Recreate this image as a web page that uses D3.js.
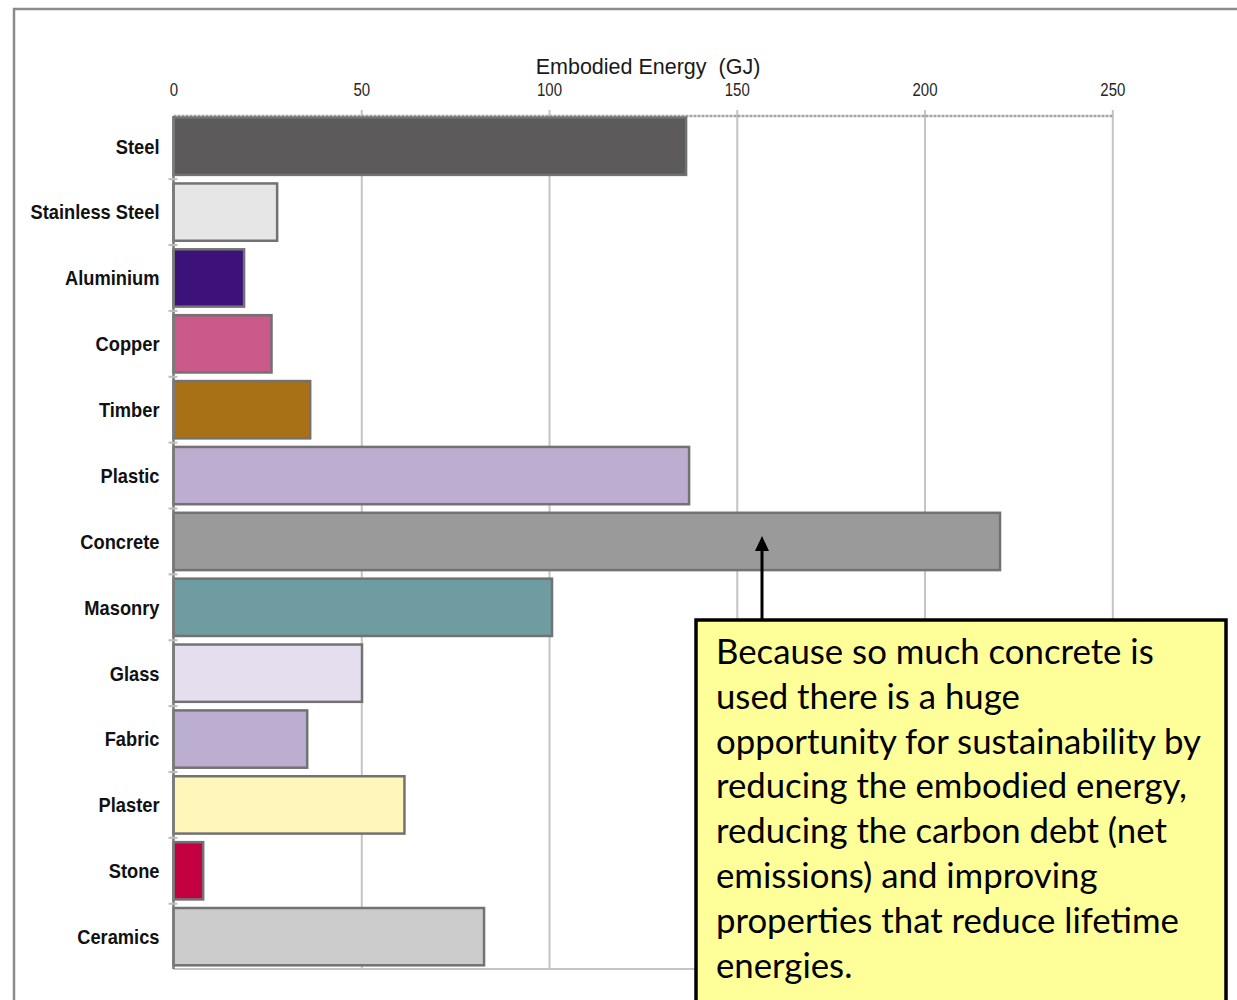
<!DOCTYPE html>
<html>
<head>
<meta charset="utf-8">
<script src="https://cdn.jsdelivr.net/npm/d3@7"></script>
<style>
  html, body { margin: 0; padding: 0; background: #ffffff; }
  svg { display: block; }
</style>
</head>
<body>
<svg id="chart" width="1237" height="1000"></svg>
<script>
// Embodied energy by building material (GJ)
const categories = ["Steel", "Stainless Steel", "Aluminium", "Copper", "Timber", "Plastic",
  "Concrete", "Masonry", "Glass", "Fabric", "Plaster", "Stone", "Ceramics"];
const energyGJ = [136.5, 27.6, 18.8, 26.1, 36.4, 137.3, 220.1, 100.8, 50.2, 35.6, 61.5, 7.9, 82.7];
const tickValues = [0, 50, 100, 150, 200, 250];
const axisTitle = "Embodied Energy\u00a0\u00a0(GJ)";
const noteLines = [
  "Because so much concrete is",
  "used there is a huge",
  "opportunity for sustainability by",
  "reducing the embodied energy,",
  "reducing the carbon debt (net",
  "emissions) and improving",
  "properties that reduce lifetime",
  "energies."
];

const barColors = ["#5c5a5b", "#e6e6e6", "#3d117a", "#cb5a8b", "#a87115", "#bdaed1",
  "#9a9a9a", "#6f9ca0", "#e5deef", "#bcaed0", "#fff7b9", "#c30040", "#cccccc"];

const svg = d3.select("#chart");

const plot = { left: 173.5, right: 1112.3, top: 116, bottom: 969 };

const x = d3.scaleLinear().domain([0, 250]).range([plot.left, plot.right]);
const y = d3.scaleBand().domain(categories).range([plot.top, plot.bottom])
  .paddingInner(0.13).paddingOuter(0.04).align(0.3);

// outer frame
svg.append("path")
  .attr("d", "M14,1000 V9 H1237")
  .attr("fill", "none").attr("stroke", "#8c8c8c").attr("stroke-width", 2.5);

// vertical gridlines (with short ticks above the plot)
const grid = svg.append("g").attr("transform", `translate(0,${plot.bottom})`)
  .call(d3.axisTop(x).tickValues(tickValues.slice(1)).tickSize(plot.bottom - plot.top + 6).tickFormat(""));
grid.select(".domain").remove();
grid.selectAll(".tick line").attr("stroke", "#c4c4c4").attr("stroke-width", 2);

// top edge of the plot area
svg.append("line")
  .attr("x1", plot.left).attr("x2", plot.right).attr("y1", plot.top).attr("y2", plot.top)
  .attr("stroke", "#a4a4a4").attr("stroke-width", 2.5).attr("stroke-dasharray", "3,1");

// bottom edge
svg.append("line")
  .attr("x1", plot.left).attr("x2", plot.right).attr("y1", plot.bottom).attr("y2", plot.bottom)
  .attr("stroke", "#c4c4c4").attr("stroke-width", 2);

// tick labels along the top
const topAxis = svg.append("g").attr("transform", `translate(0,${plot.top})`)
  .call(d3.axisTop(x).tickValues(tickValues).tickSize(0).tickPadding(0));
topAxis.select(".domain").remove();
topAxis.selectAll(".tick text")
  .attr("font-family", "'Liberation Sans', Arial, sans-serif")
  .attr("font-size", 15)
  .attr("fill", "#262626")
  .attr("dy", null)
  .attr("y", 0)
  .attr("transform", "translate(0,-20) scale(1,1.25)");

// axis title
svg.append("text")
  .attr("x", 648).attr("y", 74)
  .attr("text-anchor", "middle")
  .attr("font-family", "'Liberation Sans', Arial, sans-serif")
  .attr("font-size", 21.5)
  .attr("fill", "#1a1a1a")
  .text(axisTitle);

// bars
svg.append("g").selectAll("rect")
  .data(categories)
  .join("rect")
  .attr("x", x(0))
  .attr("y", d => y(d))
  .attr("width", (d, i) => x(energyGJ[i]) - x(0))
  .attr("height", y.bandwidth())
  .attr("fill", (d, i) => barColors[i])
  .attr("stroke", "#727272")
  .attr("stroke-width", 2.5);

// left axis line and small separators between categories
svg.append("line")
  .attr("x1", plot.left).attr("x2", plot.left).attr("y1", plot.top).attr("y2", plot.bottom)
  .attr("stroke", "#7a7a7a").attr("stroke-width", 2.5);
svg.append("g").selectAll("line")
  .data(categories.slice(1))
  .join("line")
  .attr("x1", plot.left - 5).attr("x2", plot.left + 4)
  .attr("y1", d => y(d) - y.step() * y.paddingInner() / 2)
  .attr("y2", d => y(d) - y.step() * y.paddingInner() / 2)
  .attr("stroke", "#bdbdbd").attr("stroke-width", 2);

// category labels
const leftAxis = svg.append("g").attr("transform", `translate(${plot.left},0)`)
  .call(d3.axisLeft(y).tickSize(0).tickPadding(0));
leftAxis.select(".domain").remove();
leftAxis.selectAll(".tick text")
  .attr("font-family", "'Liberation Sans', Arial, sans-serif")
  .attr("font-weight", "bold")
  .attr("font-size", 18.3)
  .attr("fill", "#111111")
  .attr("x", 0)
  .attr("dy", null)
  .attr("y", 0)
  .attr("text-anchor", "end")
  .attr("dominant-baseline", "central")
  .attr("transform", "translate(-14,0) scale(1,1.12)");

// annotation arrow pointing at the concrete bar
const arrowX = 762;
svg.append("line")
  .attr("x1", arrowX).attr("x2", arrowX).attr("y1", 621).attr("y2", 550)
  .attr("stroke", "#000").attr("stroke-width", 3);
svg.append("path")
  .attr("d", `M${arrowX},536 L${arrowX - 7},551 L${arrowX + 7},551 Z`)
  .attr("fill", "#000");

// annotation box
svg.append("rect")
  .attr("x", 696).attr("y", 620).attr("width", 530).attr("height", 420)
  .attr("fill", "#ffff99").attr("stroke", "#000").attr("stroke-width", 3.5);

const note = svg.append("g")
  .attr("font-family", "Lato, 'Open Sans', sans-serif")
  .attr("fill", "#000");
const noteText = note.selectAll("text")
  .data(noteLines)
  .join("text")
  .attr("x", 716)
  .attr("y", (d, i) => 664 + i * 44.8)
  .attr("font-size", 31)
  .text(d => d);

// fit the widest line to the box's text width
const widest = d3.max(noteText.nodes(), n => n.getComputedTextLength());
const fitted = 31 * 485 / widest;
noteText.attr("font-size", fitted);
</script>
</body>
</html>
